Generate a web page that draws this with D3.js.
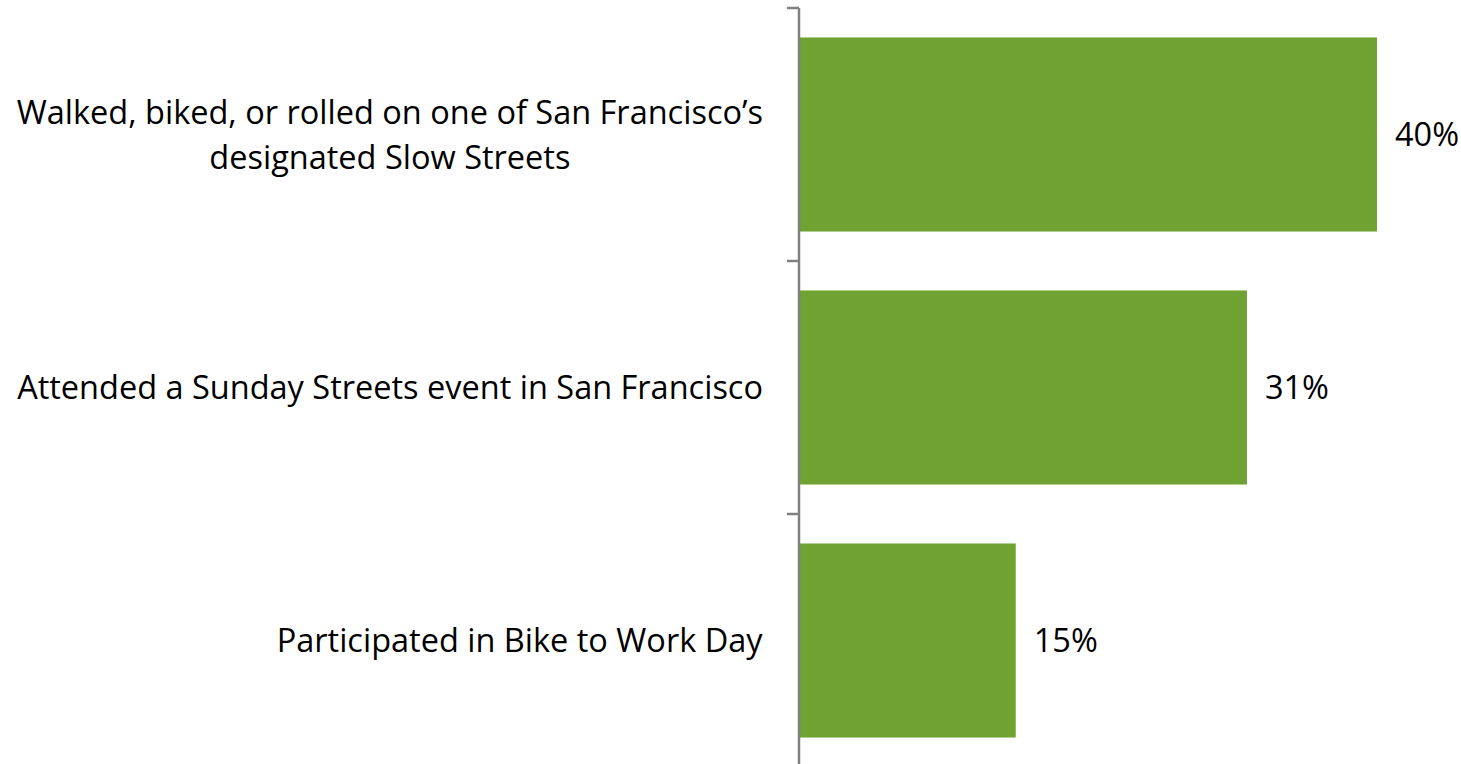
<!DOCTYPE html>
<html>
<head>
<meta charset="utf-8">
<script src="https://cdn.jsdelivr.net/npm/d3@7"></script>
<style>
  html, body { margin: 0; padding: 0; background: #fff; }
  svg { display: block; }
  text { font-family: "Open Sans", "Noto Sans", sans-serif; fill: #000; }
</style>
</head>
<body>
<svg id="chart" width="1461" height="764"></svg>
<script>
// Survey activities (each label split into its display lines)
const categories = [
  ["Walked, biked, or rolled on one of San Francisco\u2019s", "designated Slow Streets"],
  ["Attended a Sunday Streets event in San Francisco"],
  ["Participated in Bike to Work Day"]
];
const values = [40, 31, 15];
const valueLabels = ["40%", "31%", "15%"];

const W = 1461, H = 764;
const fontSize = 32.5;
const lineGap = 45;

const svg = d3.select("#chart");

const ids = d3.range(categories.length);

const y = d3.scaleBand()
  .domain(ids)
  .range([8, 767])
  .paddingInner(0.233)
  .paddingOuter(0.1165);

const x = d3.scaleLinear()
  .domain([0, 40])
  .range([799, 1377]);

// bars
svg.append("g")
  .selectAll("rect")
  .data(ids)
  .join("rect")
  .attr("x", x(0))
  .attr("y", i => y(i))
  .attr("width", i => x(values[i]) - x(0))
  .attr("height", y.bandwidth())
  .attr("fill", "#70a232");

// category axis with ticks at band boundaries
const axis = svg.append("g");
axis.append("line")
  .attr("x1", x(0)).attr("x2", x(0))
  .attr("y1", y.range()[0]).attr("y2", H)
  .attr("stroke", "#808080").attr("stroke-width", 2.5);
const boundaries = ids.map(i => y(i) - y.step() * y.paddingInner() / 2);
boundaries.push(y.range()[1]);
axis.selectAll("line.tick")
  .data(boundaries.filter(b => b < H))
  .join("line")
  .attr("class", "tick")
  .attr("x1", x(0) - 12).attr("x2", x(0))
  .attr("y1", d => d).attr("y2", d => d)
  .attr("stroke", "#808080").attr("stroke-width", 2.5);

// category labels: lines centred on each other, block right edge left of the axis
const labels = svg.append("g");
ids.forEach(i => {
  const lines = categories[i];
  const cy = y(i) + y.bandwidth() / 2;
  const t = labels.append("text")
    .attr("text-anchor", "middle")
    .style("font-size", fontSize + "px");
  lines.forEach((ln, k) => {
    t.append("tspan")
      .attr("x", 0)
      .attr("y", cy + (k - (lines.length - 1) / 2) * lineGap)
      .attr("dy", "0.36em")
      .text(ln);
  });
  const bb = t.node().getBBox();
  const cx = 763 - bb.width / 2;
  t.selectAll("tspan").attr("x", cx);
});

// value labels
svg.append("g")
  .selectAll("text")
  .data(ids)
  .join("text")
  .attr("x", i => x(values[i]) + 18)
  .attr("y", i => y(i) + y.bandwidth() / 2)
  .attr("dy", "0.36em")
  .style("font-size", fontSize + "px")
  .text(i => valueLabels[i]);
</script>
</body>
</html>
